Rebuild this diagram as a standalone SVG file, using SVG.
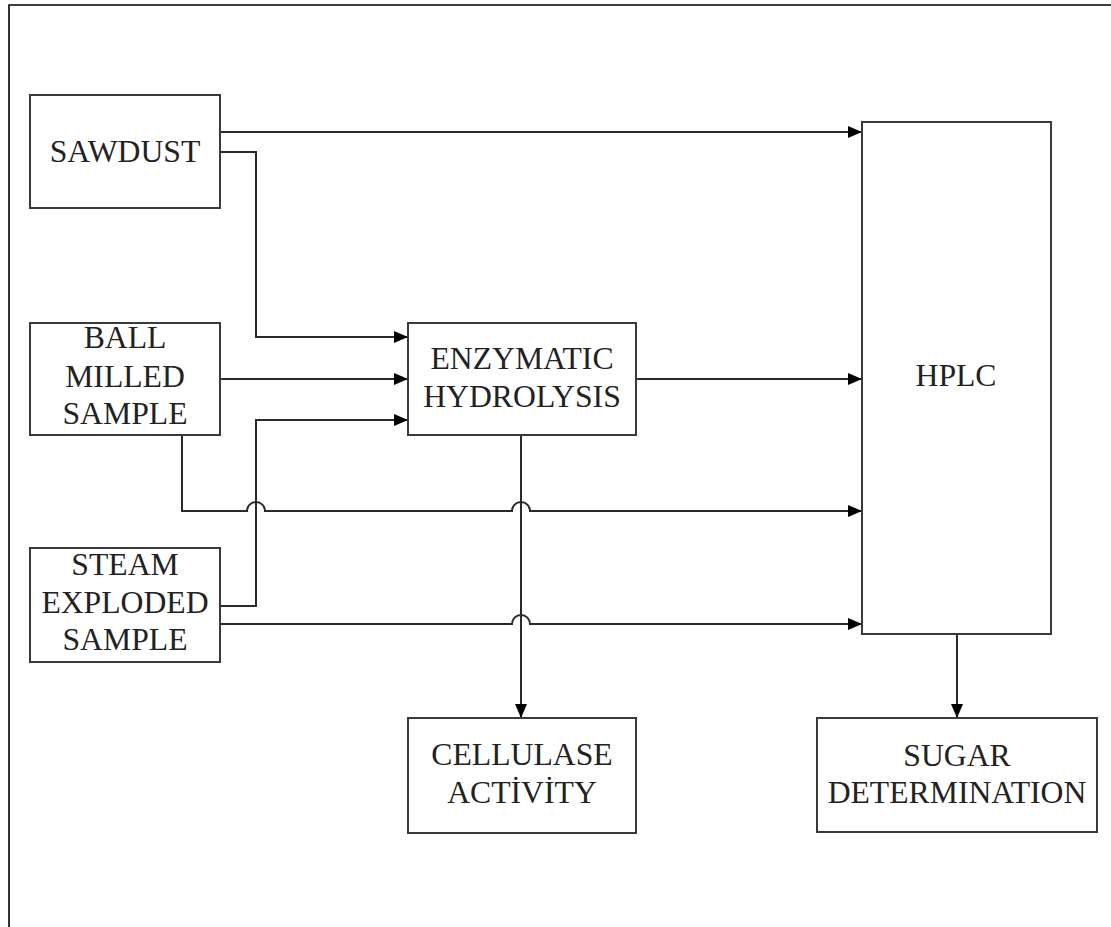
<svg xmlns="http://www.w3.org/2000/svg" width="1111" height="927" viewBox="0 0 1111 927">
<defs>
<marker id="arr" markerUnits="userSpaceOnUse" markerWidth="16" markerHeight="14" refX="14" refY="6" orient="auto">
<path d="M0,0 L14,6 L0,12 z" fill="#000"/>
</marker>
<style>
.box{fill:#fff;stroke:#3a3a3a;stroke-width:2}
.lbl{font-size:31.7px;fill:#222;text-anchor:middle}
.c{fill:none;stroke:#2a2a2a;stroke-width:2}
.a{marker-end:url(#arr)}
</style>
</defs>
<rect width="1111" height="927" fill="#fff"/>
<path d="M9,927 V5 H1111" fill="none" stroke="#000" stroke-width="1.6"/>

<g id="connectors">
<path class="c a" d="M220,132 H862"/>
<path class="c a" d="M220,152 H256 V337 H408"/>
<path class="c a" d="M220,379 H408"/>
<path class="c a" d="M220,606 H256 V420 H408"/>
<path class="c a" d="M182,435 V511 H247 a9,9 0 0 1 18,0 H512 a9,9 0 0 1 18,0 H862"/>
<path class="c a" d="M220,624 H512 a9,9 0 0 1 18,0 H862"/>
<path class="c a" d="M636,379 H862"/>
<path class="c a" d="M521,435 V718"/>
<path class="c a" d="M957,634 V718"/>
</g>

<g font-family="'Liberation Serif', 'DejaVu Serif', 'Times New Roman', serif">
<g id="sawdust">
<rect class="box" x="30" y="95" width="190" height="113"/>
<text class="lbl" x="125" y="162">SAWDUST</text>
</g>
<g id="ball-milled">
<rect class="box" x="30" y="323" width="190" height="112"/>
<text class="lbl" x="125" y="348">BALL</text>
<text class="lbl" x="125" y="387">MILLED</text>
<text class="lbl" x="125" y="424">SAMPLE</text>
</g>
<g id="steam-exploded">
<rect class="box" x="30" y="548" width="190" height="114"/>
<text class="lbl" x="125" y="575">STEAM</text>
<text class="lbl" x="125" y="613">EXPLODED</text>
<text class="lbl" x="125" y="650">SAMPLE</text>
</g>
<g id="enzymatic-hydrolysis">
<rect class="box" x="408" y="323" width="228" height="112"/>
<text class="lbl" x="522" y="369">ENZYMATIC</text>
<text class="lbl" x="522" y="407">HYDROLYSIS</text>
</g>
<g id="hplc">
<rect class="box" x="862" y="122" width="189" height="512"/>
<text class="lbl" x="956" y="386">HPLC</text>
</g>
<g id="cellulase-activity">
<rect class="box" x="408" y="718" width="228" height="115"/>
<text class="lbl" x="522" y="765">CELLULASE</text>
<text class="lbl" x="522" y="803">ACTİVİTY</text>
</g>
<g id="sugar-determination">
<rect class="box" x="817" y="718" width="280" height="114"/>
<text class="lbl" x="957" y="766">SUGAR</text>
<text class="lbl" x="957" y="803">DETERMINATION</text>
</g>
</g>
</svg>
